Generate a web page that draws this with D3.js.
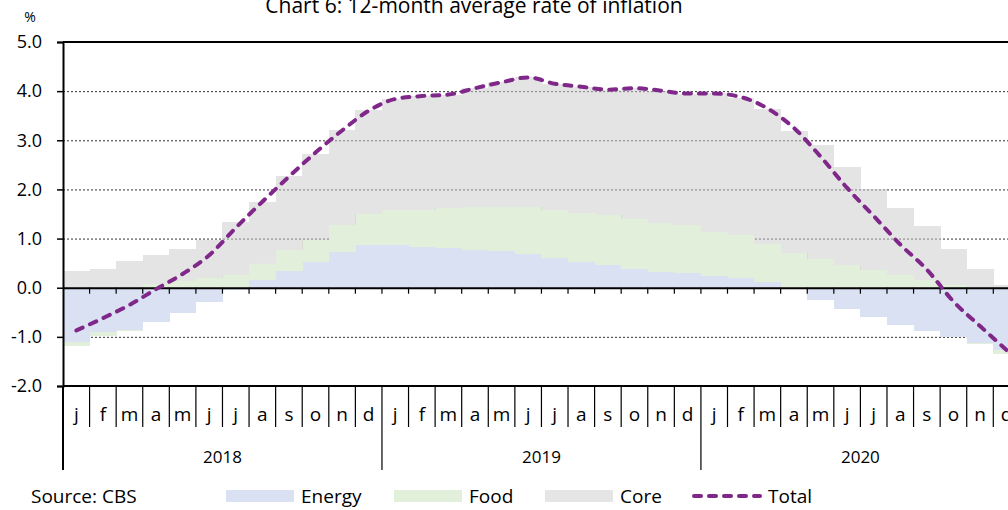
<!DOCTYPE html>
<html>
<head>
<meta charset="utf-8">
<script src="https://cdn.jsdelivr.net/npm/d3@7"></script>
<style>
  body { margin: 0; background: #fff; }
  svg { display: block; font-family: "Open Sans", sans-serif; }
</style>
</head>
<body>
<div id="chart"></div>
<script>
  const width = 1008;
  const height = 510;
  const margin = { top: 42, left: 63, bottom: 124 };
  const monthWidth = 26.58;

  // data (12-month average, %)
  const years = ['2018', '2019', '2020'];
  const monthLabels = ['j', 'f', 'm', 'a', 'm', 'j', 'j', 'a', 's', 'o', 'n', 'd'];
  const yTicks = [-2, -1, 0, 1, 2, 3, 4, 5];

  const energy = [
    -1.10, -0.90, -0.87, -0.70, -0.51, -0.29, -0.04, 0.15, 0.34, 0.52, 0.72, 0.86,
    0.87, 0.83, 0.81, 0.76, 0.74, 0.68, 0.60, 0.53, 0.46, 0.39, 0.32, 0.30,
    0.24, 0.20, 0.12, -0.02, -0.25, -0.44, -0.60, -0.76, -0.88, -1.00, -1.13, -1.27
  ];
  const food = [
    -0.08, -0.08, -0.02, 0.08, 0.135, 0.19, 0.26, 0.34, 0.42, 0.46, 0.56, 0.65,
    0.72, 0.75, 0.81, 0.88, 0.91, 0.96, 0.99, 0.99, 1.01, 1.01, 0.99, 0.97,
    0.90, 0.88, 0.76, 0.70, 0.59, 0.47, 0.36, 0.25, 0.16, 0.06, -0.02, -0.08
  ];
  const core = [
    0.34, 0.385, 0.55, 0.58, 0.645, 0.78, 1.07, 1.25, 1.52, 1.74, 1.92, 2.11,
    2.25, 2.32, 2.31, 2.42, 2.53, 2.64, 2.56, 2.57, 2.56, 2.66, 2.70, 2.68,
    2.82, 2.79, 2.76, 2.49, 2.31, 1.98, 1.65, 1.38, 1.09, 0.72, 0.39, 0.05
  ];
  const total = [
    -0.87, -0.62, -0.35, -0.03, 0.28, 0.66, 1.22, 1.75, 2.26, 2.75, 3.20, 3.60,
    3.84, 3.90, 3.93, 4.06, 4.18, 4.28, 4.15, 4.09, 4.03, 4.06, 4.01, 3.95,
    3.95, 3.88, 3.65, 3.25, 2.67, 2.03, 1.46, 0.88, 0.37, -0.28, -0.78, -1.27
  ];

  const colors = { energy: '#d9e1f2', food: '#e2efda', core: '#cbcbcb', total: '#80288a' };

  const periods = years.flatMap(y => monthLabels.map((m, i) => `${y}-${i + 1}`));
  const rows = periods.map((p, i) => ({ period: p, energy: energy[i], food: food[i], core: core[i], total: total[i] }));

  const svg = d3.select('#chart')
    .append('svg')
    .attr('width', width)
    .attr('height', height);

  // scales
  const x = d3.scaleBand()
    .domain(periods)
    .range([margin.left, margin.left + periods.length * monthWidth])
    .padding(0);

  const y = d3.scaleLinear()
    .domain([-2, 5])
    .range([height - margin.bottom, margin.top]);

  const right = margin.left + periods.length * monthWidth;

  const stacked = d3.stack()
    .keys(['energy', 'food', 'core'])
    .offset(d3.stackOffsetDiverging)(rows);

  // gridlines (under the bars, core is see-through)
  svg.append('g')
    .selectAll('line')
    .data(yTicks.filter(d => d !== 0 && d !== -2 && d !== 5))
    .join('line')
    .attr('x1', margin.left)
    .attr('x2', right)
    .attr('y1', d => y(d) + 0.5)
    .attr('y2', d => y(d) + 0.5)
    .attr('stroke', '#333')
    .attr('stroke-width', 1)
    .attr('stroke-dasharray', '2,2');

  // bars; group opacity so the core columns don't show seams
  svg.append('g')
    .selectAll('g')
    .data(stacked)
    .join('g')
    .attr('fill', d => colors[d.key])
    .attr('opacity', d => d.key === 'core' ? 0.5 : 1)
    .selectAll('rect')
    .data(d => d)
    .join('rect')
    .attr('x', d => x(d.data.period))
    .attr('width', x.bandwidth() + 0.4)
    .attr('y', d => y(Math.max(d[0], d[1])))
    .attr('height', d => Math.abs(y(d[0]) - y(d[1])))
    .attr('shape-rendering', 'crispEdges');

  // frame lines top / bottom
  svg.append('line')
    .attr('x1', margin.left).attr('x2', right)
    .attr('y1', y(5)).attr('y2', y(5))
    .attr('stroke', '#000').attr('stroke-width', 2);
  svg.append('line')
    .attr('x1', margin.left).attr('x2', right)
    .attr('y1', y(-2)).attr('y2', y(-2))
    .attr('stroke', '#000').attr('stroke-width', 2);

  // zero axis with ticks at month boundaries
  const zeroAxis = svg.append('g')
    .attr('transform', `translate(0,${y(0)})`)
    .call(d3.axisBottom(x).tickSizeInner(0).tickSizeOuter(0).tickFormat(''));
  zeroAxis.select('.domain').attr('stroke', '#000').attr('stroke-width', 2);
  zeroAxis.selectAll('.tick').remove();
  zeroAxis.selectAll('line.boundary')
    .data(periods.slice(1))
    .join('line')
    .attr('class', 'boundary')
    .attr('x1', d => x(d)).attr('x2', d => x(d))
    .attr('y1', 0).attr('y2', 6)
    .attr('stroke', '#000').attr('stroke-width', 1.2);

  // y axis
  const yAxis = svg.append('g')
    .attr('transform', `translate(${margin.left},0)`)
    .call(d3.axisLeft(y).tickValues(yTicks).tickSize(6).tickPadding(15).tickFormat(d => d.toFixed(1)));
  yAxis.select('.domain').attr('stroke', '#000').attr('stroke-width', 2);
  yAxis.selectAll('.tick line').attr('stroke', '#000').attr('stroke-width', 1.5);
  yAxis.selectAll('text')
    .attr('fill', '#000')
    .style('font-size', '18px')
    .style('font-family', '"Open Sans", sans-serif');

  // total line
  const line = d3.line()
    .x((d, i) => x(periods[i]) + x.bandwidth() / 2)
    .y(d => y(d))
    .curve(d3.curveMonotoneX);

  svg.append('path')
    .datum(total)
    .attr('d', line)
    .attr('fill', 'none')
    .attr('stroke', colors.total)
    .attr('stroke-width', 4)
    .attr('stroke-linecap', 'round')
    .attr('stroke-dasharray', '7,8');

  // category axis below the plot
  const catTop = y(-2);
  const cat = svg.append('g');
  cat.selectAll('line.month')
    .data(periods.slice(1))
    .join('line')
    .attr('class', 'month')
    .attr('x1', d => x(d)).attr('x2', d => x(d))
    .attr('y1', catTop).attr('y2', d => d.endsWith('-1') ? catTop + 84 : catTop + 41)
    .attr('stroke', '#000').attr('stroke-width', 1.2);
  cat.append('line')
    .attr('x1', margin.left).attr('x2', margin.left)
    .attr('y1', catTop).attr('y2', catTop + 84)
    .attr('stroke', '#000').attr('stroke-width', 2);

  cat.selectAll('text.month')
    .data(periods)
    .join('text')
    .attr('class', 'month')
    .attr('x', d => x(d) + x.bandwidth() / 2)
    .attr('y', 421)
    .attr('text-anchor', 'middle')
    .style('font-size', '19px')
    .text((d, i) => monthLabels[i % 12]);

  cat.selectAll('text.year')
    .data(years)
    .join('text')
    .attr('class', 'year')
    .attr('x', (d, i) => margin.left + (i * 12 + 6) * monthWidth)
    .attr('y', 463)
    .attr('text-anchor', 'middle')
    .style('font-size', '17px')
    .text(d => d);

  // % label and title
  svg.append('text')
    .attr('x', 30).attr('y', 22)
    .attr('text-anchor', 'middle')
    .style('font-size', '14px')
    .text('%');

  svg.append('text')
    .attr('x', 474)
    .attr('y', 13)
    .attr('text-anchor', 'middle')
    .style('font-size', '21px')
    .text('Chart 6: 12-month average rate of inflation');

  // legend
  const legend = svg.append('g');
  legend.append('text')
    .attr('x', 31).attr('y', 503)
    .style('font-size', '19px')
    .text('Source: CBS');

  const legendItems = [
    { name: 'Energy', key: 'energy', x: 226 },
    { name: 'Food', key: 'food', x: 394 },
    { name: 'Core', key: 'core', x: 545 }
  ];
  legendItems.forEach(d => {
    legend.append('rect')
      .attr('x', d.x).attr('y', 490)
      .attr('width', 68).attr('height', 12)
      .attr('fill', d.key === 'core' ? '#e5e5e5' : colors[d.key]);
    legend.append('text')
      .attr('x', d.x + 75).attr('y', 503)
      .style('font-size', '19px')
      .text(d.name);
  });
  legend.append('line')
    .attr('x1', 694).attr('x2', 760)
    .attr('y1', 496).attr('y2', 496)
    .attr('stroke', colors.total)
    .attr('stroke-width', 4)
    .attr('stroke-linecap', 'round')
    .attr('stroke-dasharray', '7,8');
  legend.append('text')
    .attr('x', 768).attr('y', 503)
    .style('font-size', '19px')
    .text('Total');
</script>
</body>
</html>
